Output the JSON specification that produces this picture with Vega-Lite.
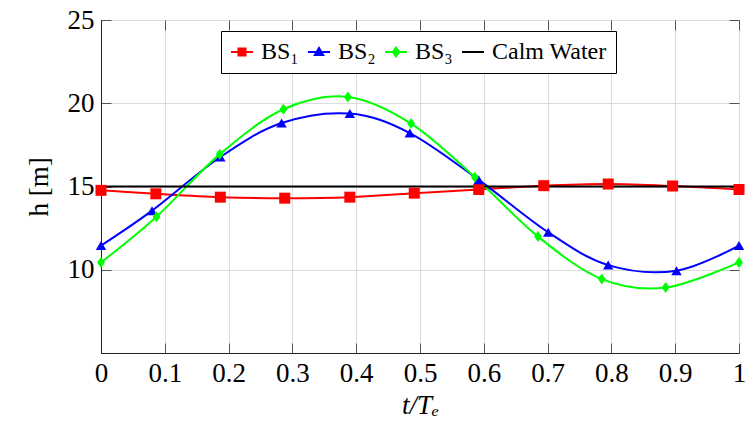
{
  "$schema": "https://vega.github.io/schema/vega-lite/v6.json",
  "width": 638,
  "height": 333,
  "autosize": {"type": "none"},
  "padding": {"left": 101, "top": 20, "right": 7, "bottom": 86},
  "background": "white",
  "config": {
    "view": {"stroke": "#222", "strokeWidth": 1},
    "font": "'Liberation Serif', 'DejaVu Serif', serif",
    "axis": {
      "labelFont": "'Liberation Serif', 'DejaVu Serif', serif",
      "titleFont": "'Liberation Serif', 'DejaVu Serif', serif",
      "labelFontSize": 27,
      "titleFontSize": 27,
      "labelColor": "#000",
      "titleColor": "#000",
      "titleFontWeight": "normal",
      "tickColor": "#555",
      "tickSize": -10,
      "tickWidth": 1,
      "labelPadding": 17,
      "labelFlush": false,
      "labelOverlap": false,
      "gridColor": "#dcdcdc",
      "gridWidth": 1,
      "domainColor": "#222"
    },
    "legend": {
      "orient": "none",
      "legendX": 120,
      "legendY": 11,
      "direction": "horizontal",
      "strokeColor": "#000",
      "fillColor": "#fff",
      "padding": 9,
      "labelFont": "'Liberation Serif', 'DejaVu Serif', serif",
      "labelFontSize": 24,
      "labelColor": "#000",
      "symbolSize": 484,
      "symbolStrokeWidth": 2,
      "labelOffset": 7,
      "columnPadding": 5,
      "labelLimit": 0
    }
  },
  "data": {
    "values": [
      {"series": "BS₁", "t": 0, "h": 14.77},
      {"series": "BS₁", "t": 0.086, "h": 14.56},
      {"series": "BS₁", "t": 0.187, "h": 14.36},
      {"series": "BS₁", "t": 0.288, "h": 14.3},
      {"series": "BS₁", "t": 0.39, "h": 14.36},
      {"series": "BS₁", "t": 0.491, "h": 14.6},
      {"series": "BS₁", "t": 0.592, "h": 14.82},
      {"series": "BS₁", "t": 0.694, "h": 15.05},
      {"series": "BS₁", "t": 0.795, "h": 15.15},
      {"series": "BS₁", "t": 0.896, "h": 15.03},
      {"series": "BS₁", "t": 1, "h": 14.82},
      {"series": "BS₂", "t": 0, "h": 11.45},
      {"series": "BS₂", "t": 0.08, "h": 13.55},
      {"series": "BS₂", "t": 0.187, "h": 16.77},
      {"series": "BS₂", "t": 0.283, "h": 18.81},
      {"series": "BS₂", "t": 0.39, "h": 19.38},
      {"series": "BS₂", "t": 0.484, "h": 18.21},
      {"series": "BS₂", "t": 0.592, "h": 15.4},
      {"series": "BS₂", "t": 0.701, "h": 12.25},
      {"series": "BS₂", "t": 0.795, "h": 10.28},
      {"series": "BS₂", "t": 0.902, "h": 9.94},
      {"series": "BS₂", "t": 1, "h": 11.45},
      {"series": "BS₃", "t": 0, "h": 10.44},
      {"series": "BS₃", "t": 0.087, "h": 13.19},
      {"series": "BS₃", "t": 0.186, "h": 16.93},
      {"series": "BS₃", "t": 0.286, "h": 19.64},
      {"series": "BS₃", "t": 0.387, "h": 20.38},
      {"series": "BS₃", "t": 0.486, "h": 18.78},
      {"series": "BS₃", "t": 0.586, "h": 15.56},
      {"series": "BS₃", "t": 0.685, "h": 11.99},
      {"series": "BS₃", "t": 0.785, "h": 9.44},
      {"series": "BS₃", "t": 0.885, "h": 8.93},
      {"series": "BS₃", "t": 1, "h": 10.44},
      {"series": "Calm Water", "t": 0, "h": 15},
      {"series": "Calm Water", "t": 1, "h": 15}
    ]
  },
  "resolve": {"axis": {"x": "independent", "y": "independent"}},
  "layer": [
    {
      "mark": {"type": "line", "strokeWidth": 2, "interpolate": "cardinal"},
      "encoding": {
        "x": {
          "field": "t", "type": "quantitative",
          "scale": {"domain": [0, 1], "nice": false, "zero": false},
          "axis": {
            "title": "t/Tₑ",
            "titleFontStyle": "italic",
            "values": [0, 0.1, 0.2, 0.3, 0.4, 0.5, 0.6, 0.7, 0.8, 0.9, 1],
            "format": ".1~f",
            "grid": true,
            "titlePadding": 6
          }
        },
        "y": {
          "field": "h", "type": "quantitative",
          "scale": {"domain": [5, 25], "nice": false, "zero": false},
          "axis": {
            "title": "h [m]",
            "values": [10, 15, 20, 25],
            "grid": true,
            "titlePadding": 14
          }
        },
        "color": {
          "field": "series", "type": "nominal",
          "scale": {
            "domain": ["BS₁", "BS₂", "BS₃", "Calm Water"],
            "range": ["#ff0000", "#0000ff", "#00ff00", "#000000"]
          },
          "legend": {
            "title": null,
            "encode": {
              "symbols": {
                "update": {
                  "shape": {"signal": "datum.value == 'BS₁' ? 'M-1,0H1M-0.32,-0.32H0.32V0.32H-0.32Z' : datum.value == 'BS₂' ? 'M-1,0H1M0,-0.36L0.38,0.28H-0.38Z' : datum.value == 'BS₃' ? 'M-1,0H1M0,-0.4L0.28,0L0,0.4L-0.28,0Z' : 'M-1,0H1'"},
                  "fill": {"scale": "color", "field": "value"},
                  "stroke": {"scale": "color", "field": "value"},
                  "strokeWidth": {"value": 2},
                  "opacity": {"value": 1}
                }
              }
            }
          }
        }
      }
    },
    {
      "transform": [{"filter": "datum.series != 'Calm Water'"}],
      "mark": {"type": "point", "filled": true, "opacity": 1, "size": 121},
      "encoding": {
        "x": {"field": "t", "type": "quantitative", "axis": null},
        "y": {"field": "h", "type": "quantitative", "axis": null},
        "color": {"field": "series", "type": "nominal", "legend": null},
        "shape": {
          "field": "series", "type": "nominal",
          "scale": {
            "domain": ["BS₁", "BS₂", "BS₃"],
            "range": ["square", "M0,-0.82L0.95,0.82H-0.95Z", "M0,-1L0.72,0L0,1L-0.72,0Z"]
          },
          "legend": null
        }
      }
    },
    {
      "transform": [{"filter": "datum.series == 'Calm Water'"}],
      "mark": {"type": "point", "opacity": 0},
      "encoding": {
        "x": {
          "field": "t", "type": "quantitative",
          "axis": {"orient": "top", "values": [0, 0.1, 0.2, 0.3, 0.4, 0.5, 0.6, 0.7, 0.8, 0.9, 1], "labels": false, "grid": false, "domain": false, "title": null}
        },
        "y": {
          "field": "h", "type": "quantitative",
          "axis": {"orient": "right", "values": [10, 15, 20, 25], "labels": false, "grid": false, "domain": false, "title": null}
        }
      }
    }
  ]
}
